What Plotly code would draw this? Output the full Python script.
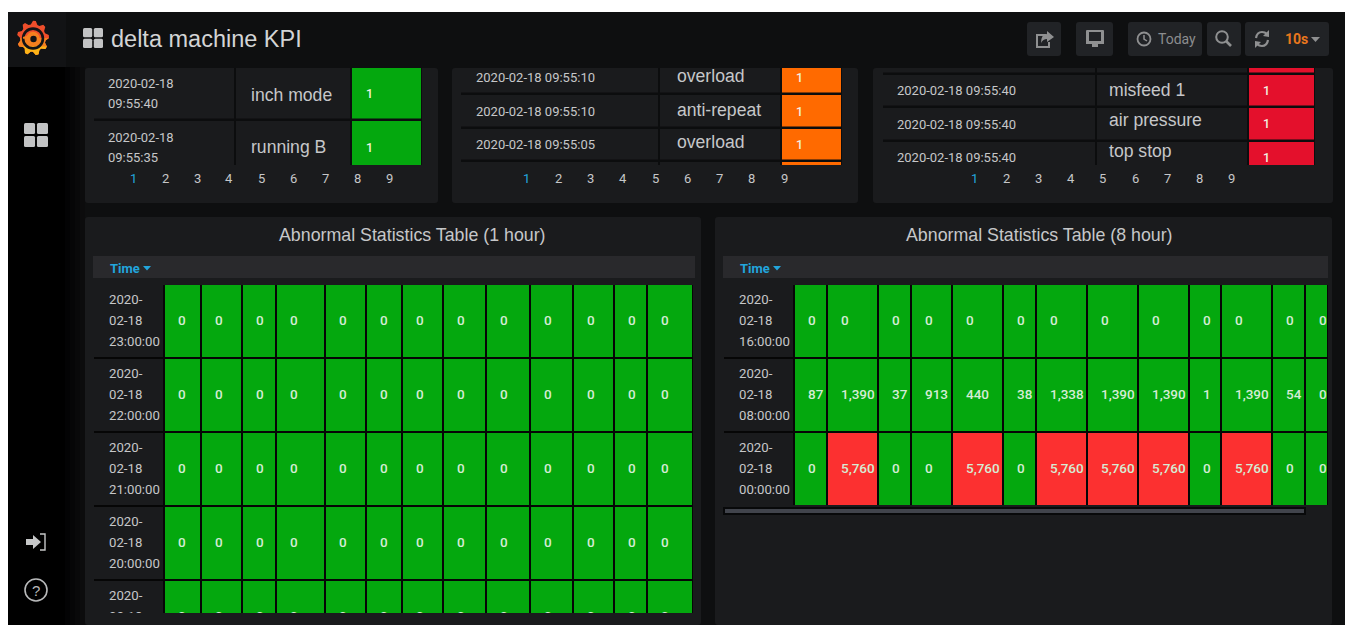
import math
import plotly.graph_objects as go

W, H = 1353, 638

# ---- data
times_1h = ["2020-02-18 23:00:00", "2020-02-18 22:00:00", "2020-02-18 21:00:00",
            "2020-02-18 20:00:00", "2020-02-18 19:00:00"]
values_1h = [[0] * 13 for t in times_1h]
times_8h = ["2020-02-18 16:00:00", "2020-02-18 08:00:00", "2020-02-18 00:00:00"]
values_8h = [
    [0, 0, 0, 0, 0, 0, 0, 0, 0, 0, 0, 0, 0],
    [87, 1390, 37, 913, 440, 38, 1338, 1390, 1390, 1, 1390, 54, 0],
    [0, 5760, 0, 0, 5760, 0, 5760, 5760, 5760, 0, 5760, 0, 0],
]
run_times = ["2020-02-18 09:55:40", "2020-02-18 09:55:35"]
run_names = ["inch mode", "running B"]
warn_times = ["2020-02-18 09:55:10", "2020-02-18 09:55:10", "2020-02-18 09:55:05", ""]
warn_names = ["overload", "anti-repeat", "overload", ""]
alarm_times = ["", "2020-02-18 09:55:40", "2020-02-18 09:55:40", "2020-02-18 09:55:40"]
alarm_names = ["", "misfeed 1", "air pressure", "top stop"]
pages = ["1", "2", "3", "4", "5", "6", "7", "8", "9"]

# ---- look
PAGE = "#0e0f10"
PANEL = "#1a1b1d"
HEAD = "#29292c"
GREEN = "#04a80e"
RED = "#fc3030"
ORANGE = "#ff6a00"
CRIMSON = "#e4102c"
TXT = "#c6c7c9"
BLUE = "#22a5dc"
SANS = "Liberation Sans"
ROB = "Roboto"
NO_VALUE = -1000  # text columns of a table, drawn in panel colour
widths_1h = [71, 37, 41, 34, 49, 41, 36, 41, 43, 44, 43, 41, 33, 46]
widths_8h = [71, 33, 51, 33, 41, 51, 33, 51, 51, 51, 32, 51, 33, 23]

fig = go.Figure()
shapes = []
notes = []


def rect(x0, y0, x1, y1, color):
    shapes.append(dict(type="rect", xref="x", yref="y", x0=x0, y0=y0, x1=x1, y1=y1,
                       fillcolor=color, line_width=0, layer="below"))


def path(d, fill=None, line=None, width=0):
    shapes.append(dict(type="path", xref="x", yref="y", path=d, layer="below",
                       fillcolor=fill if fill else "rgba(0,0,0,0)",
                       line=dict(color=line if line else "rgba(0,0,0,0)", width=width)))


def panelrect(x0, y0, x1, y1, color, r=3):
    d = (f"M{x0+r},{y0} L{x1-r},{y0} Q{x1},{y0} {x1},{y0+r} L{x1},{y1-r} Q{x1},{y1} {x1-r},{y1} "
         f"L{x0+r},{y1} Q{x0},{y1} {x0},{y1-r} L{x0},{y0+r} Q{x0},{y0} {x0+r},{y0} Z")
    path(d, fill=color)


def circle(cx, cy, r, line=None, width=0, fill=None):
    shapes.append(dict(type="circle", xref="x", yref="y", x0=cx - r, y0=cy - r, x1=cx + r, y1=cy + r,
                       fillcolor=fill if fill else "rgba(0,0,0,0)", layer="below",
                       line=dict(color=line if line else "rgba(0,0,0,0)", width=width)))


def note(x, y, text, size=13, color=TXT, family=ROB, anchor="left"):
    notes.append(dict(xref="x", yref="y", x=x, y=y, text=text, showarrow=False, xanchor=anchor,
                      yanchor="middle", borderpad=0, font=dict(size=size, color=color, family=family)))


def tiles(x, y, size, color):
    s = size * 0.46
    for dx in (0, size - s):
        for dy in (0, size - s):
            panelrect(x + dx, y + dy, x + dx + s, y + dy + s, color, r=1.5)


def logo(cx, cy, r):
    n = 9
    pts = []
    for i in range(n * 4):
        a = 2 * math.pi * i / (n * 4) - math.pi / 2
        rr = r if i % 4 in (0, 1) else r * 0.8
        pts.append((cx + rr * math.cos(a), cy + rr * math.sin(a) * 1.08))
    for cut, col in ((-99, "#ee4e2b"), (-3, "#f4801f"), (7, "#fbb417")):
        part = [p for p in pts if p[1] > cy + cut]
        path("M" + " L".join(f"{a:.1f},{b:.1f}" for a, b in part) + " Z", fill=col)
    circle(cx, cy + 0.5, r * 0.62, line="#131416", width=2.6)
    circle(cx, cy + 0.5, r * 0.42, fill="#f4801f")
    circle(cx + 0.5, cy + 1, r * 0.2, fill="#131416")
    path(f"M{cx-r*0.62},{cy} L{cx-r*0.3},{cy-r*0.1}", line="#f4801f", width=2)


# ---- page
rect(8, 12, 1345, 625, PAGE)
rect(8, 67, 65, 625, "#000000")
for i, col in enumerate(["#030304", "#060607", "#09090a", "#0c0c0d"]):
    rect(65 + i * 5, 67, 70 + i * 5, 625, col)
rect(8, 12, 66, 67, "#121315")
logo(33, 38, 16)
tiles(24, 123, 24, "#c2c3c4")
tiles(83, 28, 20, "#c2c3c4")
note(110, 38.5, "delta machine KPI", 23.5, "#d3d4d5", SANS)

# toolbar
for x0, x1 in ((1027, 1061), (1076, 1113), (1128, 1202), (1207, 1241), (1245, 1329)):
    panelrect(x0, 22, x1, 56, "#212326")
IC = "#8f9091"
path("M1046,35 L1037,35 L1037,47 L1049,47 L1049,42", line=IC, width=2)
path("M1041,43 Q1041,34 1047,34 L1047,31 L1054,37 L1047,42 L1047,39 Q1043,39 1041,43 Z", fill=IC)
panelrect(1086, 30, 1104, 43, IC, r=1)
rect(1089, 32, 1101, 41, "#212326")
rect(1086, 41, 1104, 44, IC)
rect(1092, 44, 1098, 47, IC)
circle(1144, 39, 6.5, line=IC, width=1.8)
path("M1144,35 L1144,39 L1147,41", line=IC, width=1.5)
note(1157, 38.5, "Today", 14, "#8c8d8e", ROB)
circle(1222, 37, 5.8, line=IC, width=2)
path("M1226,41 L1231,46", line=IC, width=2.6)
path("M1256,38 Q1257,32 1262,32 Q1265,32 1267,34", line=IC, width=2.2)
path("M1268,40 Q1267,46 1262,46 Q1259,46 1257,44", line=IC, width=2.2)
path("M1269,30 L1269,37 L1263,36 Z", fill=IC)
path("M1255,48 L1255,41 L1261,42 Z", fill=IC)
note(1284, 39, "<b>10s</b>", 14, "#e9771d", ROB)
path("M1311,37 L1320,37 L1315.5,42 Z", fill=IC)

# sidebar bottom icons
path("M26,539 L33,539 L33,535 L41,542 L33,549 L33,545 L26,545 Z", fill="#c6c7c8")
path("M40,534 L45,534 L45,550 L40,550", line="#c6c7c8", width=1.4)
circle(36, 590, 11, line="#b8b9ba", width=1.6)
note(36, 590.5, "?", 15, "#b8b9ba", SANS, "center")

# panels
for x0, y0, x1, y1 in ((85, 68, 438, 203), (452, 68, 858, 203), (873, 68, 1333, 203),
                       (85, 217, 701, 625), (715, 217, 1332, 625)):
    panelrect(x0, y0, x1, y1, PANEL)
note(412, 235, "Abnormal Statistics Table (1 hour)", 17.8, TXT, SANS, "center")
note(1039, 235, "Abnormal Statistics Table (8 hour)", 17.8, TXT, SANS, "center")
for x0, x1 in ((93, 695), (723, 1328)):
    rect(x0, 256, x1, 278, HEAD)
    note(x0 + 16, 268, "<b>Time</b>", 13, BLUE, ROB)
    path(f"M{x0+50},266 L{x0+58},266 L{x0+54},270.5 Z", fill=BLUE)
# scrollbar of the 8 hour table
rect(723, 507, 1306, 515, "#08090a")
rect(725, 509, 1304, 513, "#41444c")

# pagination
for x_first, step in ((133, 32.1), (526, 32.25), (974, 32.2)):
    for i, p in enumerate(pages):
        note(x_first + i * step, 178.5, p, 13, BLUE if i == 0 else TXT, ROB, "center")

# gaps between the cells
rect(94, 285, 693, 613, "#060606")
rect(724, 285, 1328, 505, "#060606")
rect(94, 68, 422, 165, "#0c0d0e")
rect(461, 68, 842, 165, "#0c0d0e")
rect(883, 68, 1315, 165, "#0c0d0e")

fig.add_trace(go.Scatter(x=[0], y=[0], mode="markers", marker=dict(opacity=0), hoverinfo="skip"))
axes = {}
axis_count = 1


def frame(x0, y0, x1, y1, xr, yr):
    global axis_count
    axis_count += 1
    n = axis_count
    axes[f"xaxis{n}"] = dict(domain=[x0 / W, x1 / W], range=xr, visible=False, anchor=f"y{n}", fixedrange=True)
    axes[f"yaxis{n}"] = dict(domain=[1 - y1 / H, 1 - y0 / H], range=yr, visible=False, anchor=f"x{n}", fixedrange=True)
    return f"x{n}", f"y{n}"


def edges(widths):
    out = [0]
    for w in widths:
        out.append(out[-1] + w)
    return out


def texts(xa, ya, xs, ys, labels, size, color, family=ROB, weight="normal"):
    fig.add_trace(go.Scatter(x=xs, y=ys, text=labels, mode="text", textposition="middle right",
                             textfont=dict(size=size, color=color, family=family, weight=weight),
                             xaxis=xa, yaxis=ya, hoverinfo="skip", showlegend=False))


def stat_table(x0, y0, x1, y1, widths, times, values):
    pitch = 74
    e = edges(widths)
    xa, ya = frame(x0, y0, x1, y1, [0, x1 - x0], [(y1 - y0) / pitch, 0])
    z = [[NO_VALUE] + row for row in values]
    fig.add_trace(go.Heatmap(x=e, y=list(range(len(z) + 1)), z=z, zmin=NO_VALUE, zmax=6000, xgap=2, ygap=2, showscale=False,
                             colorscale=[[0, PANEL], [0.1, PANEL], [0.1, GREEN], [0.8, GREEN], [0.8, RED], [1, RED]],
                             hoverinfo="skip", xaxis=xa, yaxis=ya))
    tx, ty, tl = [], [], []
    for r, t in enumerate(times):
        d, c = t.split(" ")
        parts = [d[:5], d[5:], c]
        for k, p in enumerate(parts):
            tx.append(16)
            ty.append(r + 0.5 + ((k - 1) * 21 + 1) / pitch)
            tl.append(p)
    texts(xa, ya, tx, ty, tl, 13.2, TXT)
    cx, cy, cl = [], [], []
    for r, row in enumerate(values):
        for c, v in enumerate(row):
            cx.append(e[c + 1] + 14)
            cy.append(r + 0.5 + 1 / pitch)
            cl.append(f"{v:,}")
    texts(xa, ya, cx, cy, cl, 13.5, "#d5ecd5", weight=500)


def log_table(x0, x1, top, pitch, widths, times, names, color, name_pad, time_pad, two_line=False, nudge=None):
    y0, y1 = 68, 165
    e = edges(widths)
    mid = 0.5 + 1.5 / pitch
    xa, ya = frame(x0, y0, x1, y1, [0, x1 - x0], [(y1 - top) / pitch, (y0 - top) / pitch])
    z = [[NO_VALUE, NO_VALUE, 1] for n in names]
    fig.add_trace(go.Heatmap(x=e, y=list(range(len(z) + 1)), z=z, zmin=NO_VALUE, zmax=1, xgap=2, ygap=2.5, showscale=False,
                             colorscale=[[0, PANEL], [0.5, PANEL], [0.5, color], [1, color]],
                             hoverinfo="skip", xaxis=xa, yaxis=ya))
    tx, ty, tl = [], [], []
    for r, t in enumerate(times):
        if not t:
            continue
        if two_line:
            d, c = t.split(" ")
            tx += [time_pad, time_pad]
            ty += [r + mid - 10 / pitch, r + mid + 10 / pitch]
            tl += [d, c]
        else:
            tx.append(time_pad)
            ty.append(r + mid)
            tl.append(t)
    texts(xa, ya, tx, ty, tl, 13, TXT)
    nudge = nudge or [0] * len(names)
    texts(xa, ya, [e[1] + name_pad] * len(names), [r + mid + nudge[r] / pitch for r in range(len(names))], names, 17.6, TXT, SANS)
    texts(xa, ya, [e[2] + 15] * len(names), [r + mid for r in range(len(names))], ["1"] * len(names), 12.5, "#f0f0e0", weight=500)


log_table(93, 422, 66, 54, [142, 116, 71], run_times, run_names, GREEN, 16, 15, two_line=True, nudge=[2, 0])
log_table(460, 842, 61, 33.4, [199, 122, 61], warn_times, warn_names, ORANGE, 18, 16, nudge=[-2, -1, -2, 0])
log_table(882, 1315, 40, 33.5, [214, 152, 67], alarm_times, alarm_names, CRIMSON, 13, 15, nudge=[0, 0, -4, -6])
stat_table(93, 284, 693, 613, widths_1h, times_1h, values_1h)
stat_table(723, 284, 1328, 505, widths_8h, times_8h, values_8h)

fig.update_layout(
    width=W, height=H, autosize=False, margin=dict(l=0, r=0, t=0, b=0),
    paper_bgcolor="white", plot_bgcolor="rgba(0,0,0,0)", showlegend=False,
    xaxis=dict(range=[0, W], domain=[0, 1], visible=False, fixedrange=True),
    yaxis=dict(range=[H, 0], domain=[0, 1], visible=False, fixedrange=True),
    shapes=shapes, annotations=notes, **axes,
)
fig.write_html("out.html", config={"displayModeBar": False}, post_script="document.body.style.margin='0';")
